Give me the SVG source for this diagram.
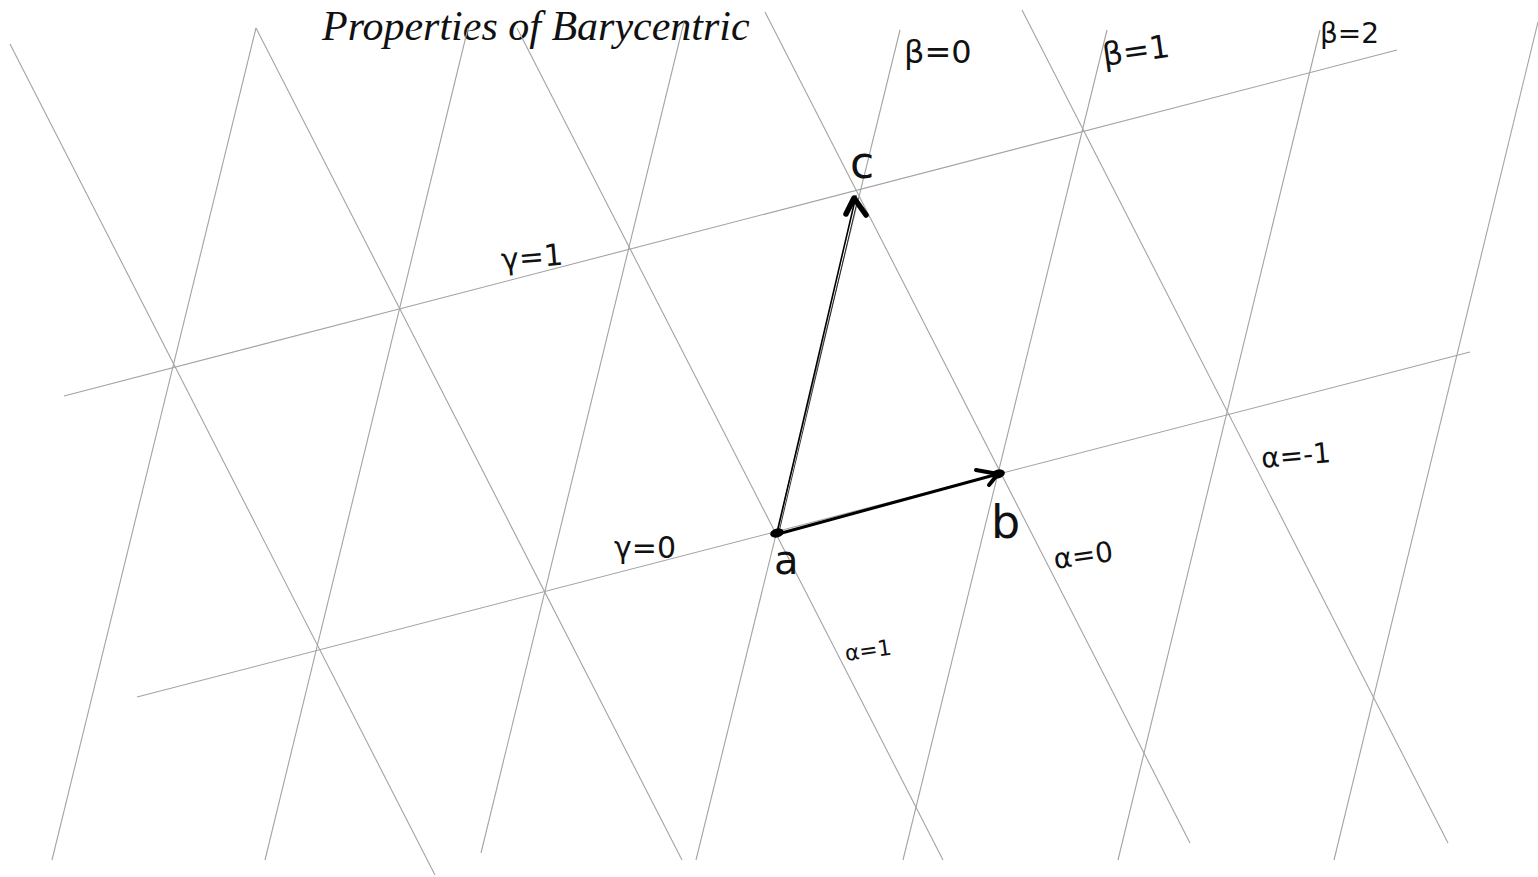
<svg xmlns="http://www.w3.org/2000/svg" width="1538" height="877" viewBox="0 0 1538 877">
<style>
.grid{stroke:#a3a3a3;stroke-width:1.1;fill:none}
.lbl{font-family:"DejaVu Sans","Liberation Sans",sans-serif;fill:#111;font-weight:normal}
.ink{stroke:#000;fill:none;stroke-linecap:round;stroke-linejoin:round}
</style>
<rect width="1538" height="877" fill="#fff"/>
<g id="title">
<text x="322" y="40" font-size="42" font-family="Liberation Serif, serif" font-style="italic" fill="#111">Properties of Barycentric</text>
</g>
<g id="grid">
<line class="grid" x1="137" y1="697" x2="1470" y2="352"/>
<line class="grid" x1="64" y1="396" x2="1397" y2="50"/>
<line class="grid" x1="256" y1="28" x2="52" y2="860"/>
<line class="grid" x1="468" y1="28" x2="265" y2="860"/>
<line class="grid" x1="684" y1="22" x2="481" y2="853"/>
<line class="grid" x1="900" y1="30" x2="696" y2="860"/>
<line class="grid" x1="1107" y1="30" x2="903" y2="860"/>
<line class="grid" x1="1320" y1="30" x2="1118" y2="860"/>
<line class="grid" x1="1538" y1="22" x2="1334" y2="860"/>
<line class="grid" x1="10" y1="44" x2="435" y2="875"/>
<line class="grid" x1="256" y1="28" x2="682" y2="860"/>
<line class="grid" x1="517" y1="28" x2="943" y2="860"/>
<line class="grid" x1="765" y1="12" x2="1190" y2="843"/>
<line class="grid" x1="1022" y1="10" x2="1448" y2="843"/>
</g>
<g id="connectors">
<line class="ink" x1="777" y1="533" x2="856" y2="196" stroke-width="1.6"/>
<line class="ink" x1="779" y1="532" x2="858" y2="198" stroke-width="0.8"/>
<path class="ink" d="M846,214 L854,198 L866,215" stroke-width="5.5"/>
<line class="ink" x1="778" y1="534" x2="998" y2="474" stroke-width="3"/>
<path class="ink" d="M976,470 L998,474 L989,485" stroke-width="4"/>
</g>
<g id="node-a">
<ellipse cx="777" cy="533" rx="7" ry="4.5" fill="#000" transform="rotate(-15 777 533)"/>
<text class="lbl" x="774" y="574" font-size="40">a</text>
</g>
<g id="node-b">
<ellipse cx="998" cy="474" rx="7" ry="4.5" fill="#000" transform="rotate(-15 998 474)"/>
<text class="lbl" x="991" y="538" font-size="46">b</text>
</g>
<g id="node-c">
<text class="lbl" x="850" y="178" font-size="44">c</text>
</g>
<g id="labels">
<text class="lbl" x="904" y="63" font-size="32">β=0</text>
<text class="lbl" x="1104" y="66" font-size="32" transform="rotate(-8 1104 66)">β=1</text>
<text class="lbl" x="1320" y="43" font-size="28">β=2</text>
<text class="lbl" x="502" y="270" font-size="30" transform="rotate(-5 502 270)">γ=1</text>
<text class="lbl" x="614" y="558" font-size="30">γ=0</text>
<text class="lbl" x="1262" y="468" font-size="28" transform="rotate(-5 1262 468)">α=-1</text>
<text class="lbl" x="1055" y="569" font-size="28" transform="rotate(-8 1055 569)">α=0</text>
<text class="lbl" x="846" y="661" font-size="22" transform="rotate(-8 846 661)">α=1</text>
</g>
</svg>
